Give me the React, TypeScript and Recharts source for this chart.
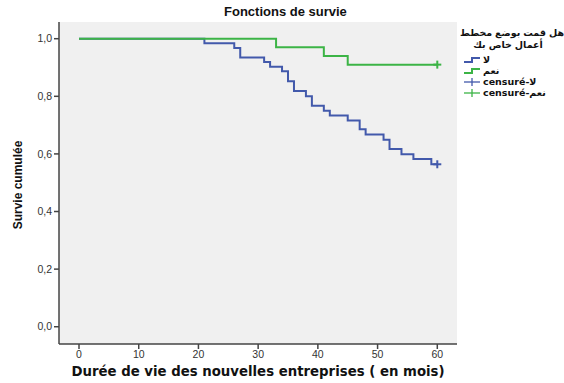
import { ComposedChart, Line, Scatter, XAxis, YAxis, CartesianGrid } from "recharts"

// Kaplan-Meier steps
const noTimes = [0, 21, 26, 27, 31, 32, 34, 35, 36, 38, 39, 41, 42, 45, 47, 48, 51, 52, 54, 56, 59, 60]
const noSurv = [1, 0.984, 0.968, 0.935, 0.919, 0.903, 0.887, 0.852, 0.818, 0.8, 0.767, 0.75, 0.733, 0.716, 0.686, 0.667, 0.649, 0.617, 0.599, 0.582, 0.564, 0.564]
const yesTimes = [0, 33, 41, 45, 60]
const yesSurv = [1, 0.97, 0.94, 0.91, 0.91]
const noCensored = [{ t: 60, s: 0.564 }]
const yesCensored = [{ t: 60, s: 0.91 }]

const xTicks = [0, 10, 20, 30, 40, 50, 60]
const yTicks = [0, 0.2, 0.4, 0.6, 0.8, 1]

const legendTitle1 = ["هل", "قمت", "بوضع", "مخطط"]
const legendTitle2 = ["أعمال", "خاص", "بك"]
const legendLabels = ["لا", "نعم", "censuré-لا", "censuré-نعم"]

const BLUE = "#4259ab"
const GREEN = "#3cb446"

const noData = noTimes.map((t, i) => ({ t, s: noSurv[i] }))
const yesData = yesTimes.map((t, i) => ({ t, s: yesSurv[i] }))

const Plus = (color: string) => (props: any) => {
  const { cx, cy } = props
  return (
    <g>
      <line x1={cx - 4} x2={cx + 4} y1={cy} y2={cy} stroke={color} strokeWidth={2} />
      <line x1={cx} x2={cx} y1={cy - 4} y2={cy + 4} stroke={color} strokeWidth={2} />
    </g>
  )
}

function LegendIcon({ color, censored }: { color: string; censored: boolean }) {
  return (
    <svg width={18} height={10} style={{ display: "block" }}>
      {censored ? (
        <g stroke={color} strokeWidth={1.3}>
          <line x1={1} x2={17} y1={5} y2={5} />
          <line x1={9} x2={9} y1={1} y2={9} />
        </g>
      ) : (
        <polyline points="1,7 9,7 9,3 17,3" fill="none" stroke={color} strokeWidth={2} />
      )}
    </svg>
  )
}

const wide = "'DejaVu Sans', sans-serif"

export default function App() {
  const tickStyle = { fontSize: 10.5, fill: "#333", fontFamily: "Liberation Sans" }
  const colors = [BLUE, GREEN, BLUE, GREEN]
  const legendText = { fontFamily: wide, fontSize: 9.5, fontWeight: "bold" as const, color: "#111", whiteSpace: "nowrap" as const }
  return (
    <div style={{ position: "absolute", left: 0, top: 0, width: 564, height: 383, background: "#fff", fontFamily: "Liberation Sans", overflow: "hidden" }}>
      <ComposedChart width={564} height={383} data={noData} margin={{ top: 22, right: 107, left: 0, bottom: 0 }}>
        <CartesianGrid fill="#f0f0f0" horizontal={false} vertical={false} />
        <XAxis
          dataKey="t"
          type="number"
          domain={[-3.35, 63.3]}
          allowDataOverflow
          ticks={xTicks}
          height={39}
          tick={tickStyle}
          tickSize={5}
          stroke="#444"
          strokeWidth={1.5}
        />
        <XAxis xAxisId="top" orientation="top" type="number" domain={[0, 1]} height={0} tick={false} tickLine={false} stroke="#8a8a8a" strokeWidth={1.5} />
        <YAxis
          dataKey="s"
          type="number"
          domain={[-0.06, 1.058]}
          allowDataOverflow
          ticks={yTicks}
          width={59}
          tick={tickStyle}
          tickSize={5}
          tickFormatter={(v: number) => v.toFixed(1).replace(".", ",")}
          stroke="#444"
          strokeWidth={1.5}
        />
        <YAxis yAxisId="right" orientation="right" type="number" domain={[0, 1]} width={0} tick={false} tickLine={false} stroke="#8a8a8a" strokeWidth={1.5} />
        <Line data={noData} dataKey="s" type="stepAfter" stroke={BLUE} strokeWidth={2} dot={false} isAnimationActive={false} />
        <Line data={yesData} dataKey="s" type="stepAfter" stroke={GREEN} strokeWidth={2} dot={false} isAnimationActive={false} />
        <Scatter data={noCensored} dataKey="s" shape={Plus(BLUE)} isAnimationActive={false} />
        <Scatter data={yesCensored} dataKey="s" shape={Plus(GREEN)} isAnimationActive={false} />
      </ComposedChart>

      <div style={{ position: "absolute", left: 224, top: 4, fontSize: 13, fontWeight: "bold", color: "#111", whiteSpace: "nowrap" }}>
        Fonctions de survie
      </div>
      <div style={{ position: "absolute", left: 0, width: 516, top: 364, textAlign: "center", fontFamily: wide, fontSize: 13.3, fontWeight: "bold", color: "#111", whiteSpace: "nowrap" }}>
        Durée de vie des nouvelles entreprises ( en mois)
      </div>
      <div
        style={{
          position: "absolute",
          left: 18,
          top: 185,
          transform: "translate(-50%, -50%) rotate(-90deg)",
          fontSize: 12,
          fontWeight: "bold",
          color: "#111",
          whiteSpace: "nowrap",
        }}
      >
        Survie cumulée
      </div>

      <div style={{ ...legendText, position: "absolute", left: 462, width: 100, top: 27, display: "flex", justifyContent: "center", gap: 3, direction: "ltr" }}>
        {[...legendTitle1].reverse().map((w) => (
          <span key={w}>{w}</span>
        ))}
      </div>
      <div style={{ ...legendText, position: "absolute", left: 458, width: 100, top: 39, display: "flex", justifyContent: "center", gap: 3, direction: "ltr" }}>
        {[...legendTitle2].reverse().map((w) => (
          <span key={w}>{w}</span>
        ))}
      </div>
      {legendLabels.map((label, i) => (
        <div key={label} style={{ ...legendText, position: "absolute", left: 463, top: 54 + i * 11, display: "flex", alignItems: "center", gap: 2 }}>
          <LegendIcon color={colors[i]} censored={i >= 2} />
          <span>{label}</span>
        </div>
      ))}
    </div>
  )
}
